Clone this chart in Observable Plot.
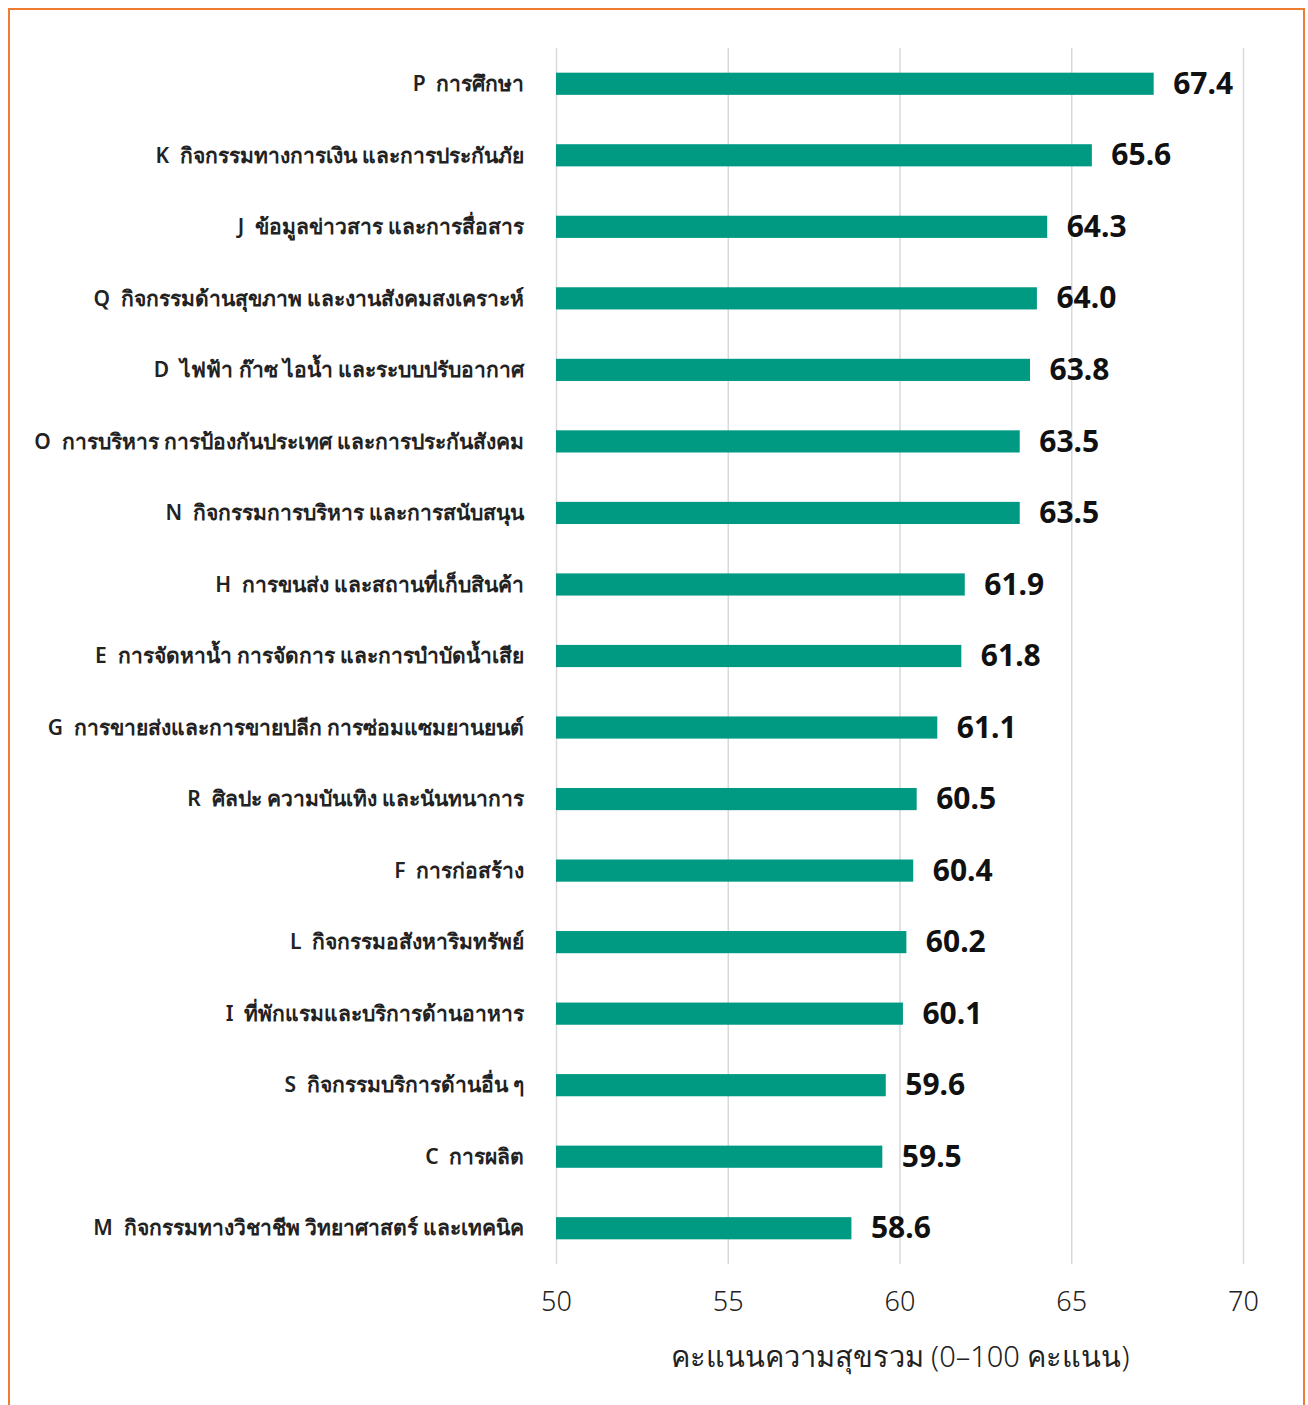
<!DOCTYPE html>
<html>
<head>
<meta charset="utf-8">
<script src="https://cdn.jsdelivr.net/npm/d3@7"></script>
<script src="https://cdn.jsdelivr.net/npm/@observablehq/plot@0.6"></script>
<style>
  html, body { margin: 0; padding: 0; background: #fff; }
  #frame { position: absolute; left: 8px; top: 8px; width: 1297px; height: 1420px; border: 2px solid #ED7D31; box-sizing: border-box; }
  #chart { position: absolute; left: 0; top: 0; }
  svg { font-family: "Noto Sans", "DejaVu Sans", sans-serif; }
</style>
</head>
<body>
<div id="frame"></div>
<div id="chart"></div>
<script>
const codes = ["P","K","J","Q","D","O","N","H","E","G","R","F","L","I","S","C","M"];
const names = [
  "การศึกษา",
  "กิจกรรมทางการเงิน และการประกันภัย",
  "ข้อมูลข่าวสาร และการสื่อสาร",
  "กิจกรรมด้านสุขภาพ และงานสังคมสงเคราะห์",
  "ไฟฟ้า ก๊าซ ไอน้ำ และระบบปรับอากาศ",
  "การบริหาร การป้องกันประเทศ และการประกันสังคม",
  "กิจกรรมการบริหาร และการสนับสนุน",
  "การขนส่ง และสถานที่เก็บสินค้า",
  "การจัดหาน้ำ การจัดการ และการบำบัดน้ำเสีย",
  "การขายส่งและการขายปลีก การซ่อมแซมยานยนต์",
  "ศิลปะ ความบันเทิง และนันทนาการ",
  "การก่อสร้าง",
  "กิจกรรมอสังหาริมทรัพย์",
  "ที่พักแรมและบริการด้านอาหาร",
  "กิจกรรมบริการด้านอื่น ๆ",
  "การผลิต",
  "กิจกรรมทางวิชาชีพ วิทยาศาสตร์ และเทคนิค"
];
const scores = [67.4, 65.6, 64.3, 64.0, 63.8, 63.5, 63.5, 61.9, 61.8, 61.1, 60.5, 60.4, 60.2, 60.1, 59.6, 59.5, 58.6];
const xTicks = [50, 55, 60, 65, 70];
const xLabel = "คะแนนความสุขรวม (0–100 คะแนน)";

const labels = codes.map((c, i) => c + "  " + names[i]);
const data = labels.map((l, i) => ({label: l, value: scores[i]}));
const xMin = xTicks[0];

const chart = Plot.plot({
  width: 1308,
  height: 1405,
  marginLeft: 556,
  marginRight: 65,
  marginTop: 48,
  marginBottom: 141,
  style: {fontSize: "21px", color: "#222", background: "transparent"},
  x: {domain: [xTicks[0], xTicks[xTicks.length - 1]], ticks: xTicks},
  y: {domain: labels, paddingInner: 0.69, paddingOuter: 0.345, round: false},
  marks: [
    Plot.gridX(xTicks, {stroke: "#d9d9d9", strokeOpacity: 1, strokeWidth: 1.5}),
    Plot.barX(data, {y: "label", x1: xMin, x2: "value", fill: "#009A82"}),
    Plot.text(data, {y: "label", x: "value", text: d => d.value.toFixed(1), textAnchor: "start", dx: 19, fontSize: 30, fontWeight: "bold", fill: "#111"}),
    Plot.axisY({tickSize: 0, tickPadding: 32, label: null, fontSize: 21, fontWeight: 600}),
    Plot.axisX({ticks: xTicks, tickSize: 0, tickPadding: 27, fontSize: 27, fontWeight: 300, label: null}),
    Plot.axisX({ticks: [], tickSize: 0, fontSize: 29, fontWeight: 300, label: xLabel, labelAnchor: "center", labelArrow: "none", labelOffset: 102})
  ]
});
document.getElementById("chart").appendChild(chart);
</script>
</body>
</html>
